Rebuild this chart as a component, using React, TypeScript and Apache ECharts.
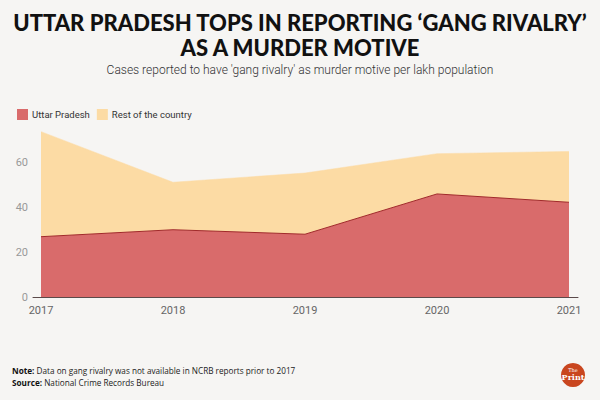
import React, { useEffect, useRef } from "react";
import * as echarts from "echarts";

const years = ["2017", "2018", "2019", "2020", "2021"];
const upValues = [26.8, 29.9, 27.9, 45.8, 42.1];
const restValues = [46.7, 21.1, 27.2, 17.9, 22.6];
const yTicks = [0, 20, 40, 60];

export default function App() {
  const ref = useRef<HTMLDivElement>(null);
  useEffect(() => {
    document.body.style.margin = "0";
    const chart = echarts.init(ref.current!, null, { renderer: "svg" });
    const center = (text: string, x: number, y: number, extra: any) => ({
      type: "text",
      x,
      y,
      style: {
        text,
        textAlign: "center",
        textVerticalAlign: "middle",
        align: "center",
        verticalAlign: "middle",
        ...extra,
      },
    });
    chart.setOption({
      animation: false,
      backgroundColor: "#f6f5f3",
      grid: [
        { left: 41, right: 31, top: 117, bottom: 103 },
        { left: 33, right: 22, top: 117, bottom: 103 },
      ],
      legend: {
        left: 12,
        top: 104,
        icon: "rect",
        itemWidth: 11,
        itemHeight: 11,
        itemGap: 7,
        textStyle: { fontFamily: "Roboto", fontSize: 9.5, color: "#333", padding: [0, 0, 0, -1] },
        data: ["Uttar Pradesh", "Rest of the country"],
      },
      xAxis: [
        {
          type: "category",
          gridIndex: 0,
          data: years,
          boundaryGap: false,
          splitLine: { show: false },
          axisTick: { show: false },
          axisLine: { show: false },
          axisLabel: {
            color: "#666",
            fontFamily: "Roboto",
            fontSize: 11,
            margin: 8,
          },
        },
        {
          type: "value",
          gridIndex: 1,
          min: 0,
          max: 1,
          splitLine: { show: false },
          axisTick: { show: false },
          axisLabel: { show: false },
          axisLine: { show: true, lineStyle: { color: "#5b4a4a", width: 1 } },
        },
      ],
      yAxis: [
        {
          type: "value",
          gridIndex: 0,
          min: 0,
          max: 80,
          interval: 20,
          splitLine: { show: false },
          axisLine: { show: false },
          axisTick: { show: false },
          axisLabel: {
            formatter: (v: number) => (yTicks.includes(v) ? String(v) : ""),
            color: "#999",
            fontFamily: "Roboto",
            fontSize: 11,
            margin: 13,
          },
        },
        {
          type: "value",
          gridIndex: 1,
          min: 0,
          max: 1,
          show: false,
        },
      ],
      series: [
        {
          name: "Uttar Pradesh",
          type: "line",
          stack: "total",
          symbol: "none",
          xAxisIndex: 0,
          yAxisIndex: 0,
          data: upValues,
          itemStyle: { color: "#d96b6b" },
          lineStyle: { color: "#a12a2a", width: 1 },
          areaStyle: { color: "#d96b6b", opacity: 1 },
          z: 3,
        },
        {
          name: "Rest of the country",
          type: "line",
          stack: "total",
          symbol: "none",
          xAxisIndex: 0,
          yAxisIndex: 0,
          data: restValues,
          itemStyle: { color: "#fcdba4" },
          lineStyle: { color: "#fcdba4", width: 0.5 },
          areaStyle: { color: "#fcdba4", opacity: 1 },
          z: 2,
        },
      ],
      graphic: [
        center("UTTAR PRADESH TOPS IN REPORTING ‘GANG RIVALRY’", 300, 22, {
          fontFamily: "Lato",
          fontWeight: 900,
          fontSize: 22,
          fill: "#111",
        }),
        center("AS A MURDER MOTIVE", 300, 47, {
          fontFamily: "Lato",
          fontWeight: 900,
          fontSize: 22,
          fill: "#111",
        }),
        center("Cases reported to have 'gang rivalry' as murder motive per lakh population", 300, 70, {
          fontFamily: "Roboto",
          fontWeight: 300,
          fontSize: 12,
          fill: "#333",
        }),
        {
          type: "text",
          x: 12,
          y: 370,
          style: {
            text: "{b|Note:} Data on gang rivalry was not available in NCRB reports prior to 2017",
            fontFamily: "Open Sans",
            fontSize: 8.2,
            fill: "#222",
            textVerticalAlign: "middle",
            verticalAlign: "middle",
            rich: { b: { fontFamily: "Open Sans", fontWeight: "bold", fontSize: 8.2, fill: "#111" } },
          },
        },
        {
          type: "text",
          x: 12,
          y: 382,
          style: {
            text: "{b|Source:} National Crime Records Bureau",
            fontFamily: "Open Sans",
            fontSize: 8.2,
            fill: "#222",
            textVerticalAlign: "middle",
            verticalAlign: "middle",
            rich: { b: { fontFamily: "Open Sans", fontWeight: "bold", fontSize: 8.2, fill: "#111" } },
          },
        },
        {
          type: "circle",
          shape: { cx: 573, cy: 375, r: 12 },
          style: { fill: "#c9461f" },
        },
        center("The", 573, 370, { fontFamily: "DejaVu Serif", fontSize: 5, fill: "#fff" }),
        center("Print", 573, 377, {
          fontFamily: "DejaVu Serif",
          fontWeight: "bold",
          fontSize: 8,
          fill: "#fff",
        }),
      ],
    });
    return () => chart.dispose();
  }, []);
  return <div ref={ref} style={{ position: "absolute", left: 0, top: 0, width: 600, height: 400 }} />;
}
